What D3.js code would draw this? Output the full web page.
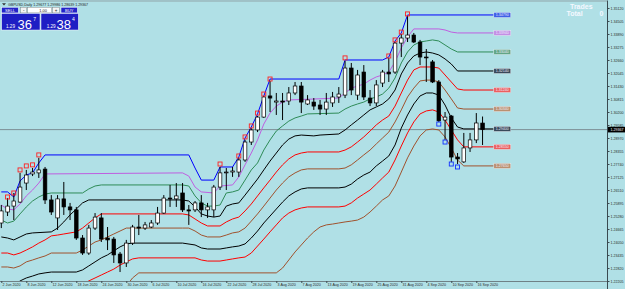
<!DOCTYPE html>
<html>
<head>
<meta charset="utf-8">
<script src="https://cdnjs.cloudflare.com/ajax/libs/d3/7.8.5/d3.min.js"></script>
<style>
body { margin: 0; background: #b0e0e6; }
svg { display: block; font-family: "Liberation Sans", Arial, sans-serif; }
</style>
</head>
<body>
<div id="my_dataviz"></div>
<script>
// chart size
var width = 625, height = 289;
var plotRight = 607, plotBottom = 281;

// daily candles GBPUSD: [open, high, low, close]
var candles = [
  [1.2495, 1.2580, 1.2471, 1.2552], [1.2547, 1.2613, 1.2528, 1.2575], [1.2575, 1.2637, 1.2509, 1.2599],
  [1.2594, 1.2732, 1.2590, 1.2665], [1.2684, 1.2746, 1.2651, 1.2722], [1.2727, 1.2755, 1.2717, 1.2736],
  [1.2732, 1.2803, 1.2708, 1.2746], [1.2750, 1.2760, 1.2585, 1.2604], [1.2604, 1.2627, 1.2533, 1.2547],
  [1.2519, 1.2627, 1.2462, 1.2609], [1.2609, 1.2689, 1.2533, 1.2571], [1.2571, 1.2590, 1.2509, 1.2557],
  [1.2557, 1.2571, 1.2415, 1.2424], [1.2424, 1.2438, 1.2344, 1.2353], [1.2353, 1.2486, 1.2344, 1.2471],
  [1.2471, 1.2542, 1.2462, 1.2523], [1.2519, 1.2542, 1.2405, 1.2419], [1.2424, 1.2476, 1.2367, 1.2415],
  [1.2419, 1.2429, 1.2306, 1.2344], [1.2348, 1.2358, 1.2263, 1.2306], [1.2306, 1.2415, 1.2287, 1.2400],
  [1.2400, 1.2486, 1.2391, 1.2476], [1.2476, 1.2533, 1.2438, 1.2471], [1.2471, 1.2500, 1.2462, 1.2486],
  [1.2476, 1.2509, 1.2471, 1.2495], [1.2495, 1.2571, 1.2486, 1.2542], [1.2542, 1.2627, 1.2538, 1.2613],
  [1.2613, 1.2675, 1.2571, 1.2609], [1.2609, 1.2684, 1.2571, 1.2623], [1.2637, 1.2684, 1.2547, 1.2557],
  [1.2557, 1.2580, 1.2486, 1.2552], [1.2557, 1.2599, 1.2547, 1.2590], [1.2590, 1.2627, 1.2523, 1.2557],
  [1.2557, 1.2590, 1.2519, 1.2571], [1.2557, 1.2675, 1.2523, 1.2665], [1.2665, 1.2760, 1.2651, 1.2732],
  [1.2732, 1.2755, 1.2651, 1.2736], [1.2736, 1.2760, 1.2713, 1.2741], [1.2736, 1.2803, 1.2713, 1.2793],
  [1.2793, 1.2888, 1.2784, 1.2878], [1.2878, 1.2944, 1.2864, 1.2935], [1.2935, 1.3001, 1.2925, 1.2996],
  [1.2996, 1.3096, 1.2992, 1.3091], [1.3096, 1.3167, 1.3020, 1.3086], [1.3067, 1.3110, 1.3006, 1.3072],
  [1.3072, 1.3110, 1.2982, 1.3067], [1.3072, 1.3138, 1.3053, 1.3110], [1.3110, 1.3162, 1.3100, 1.3143],
  [1.3143, 1.3162, 1.3015, 1.3067], [1.3058, 1.3100, 1.3053, 1.3077], [1.3067, 1.3086, 1.3030, 1.3048],
  [1.3053, 1.3077, 1.3006, 1.3034], [1.3034, 1.3110, 1.3006, 1.3067], [1.3063, 1.3115, 1.3044, 1.3091],
  [1.3091, 1.3138, 1.3063, 1.3105], [1.3100, 1.3261, 1.3086, 1.3228], [1.3228, 1.3252, 1.3100, 1.3124],
  [1.3100, 1.3219, 1.3077, 1.3195], [1.3209, 1.3242, 1.3077, 1.3091], [1.3086, 1.3124, 1.3048, 1.3063],
  [1.3063, 1.3171, 1.3048, 1.3148], [1.3157, 1.3219, 1.3138, 1.3209], [1.3209, 1.3276, 1.3162, 1.3200],
  [1.3209, 1.3351, 1.3200, 1.3346], [1.3346, 1.3389, 1.3280, 1.3370], [1.3370, 1.3474, 1.3351, 1.3384],
  [1.3384, 1.3394, 1.3346, 1.3351], [1.3351, 1.3361, 1.3242, 1.3280], [1.3280, 1.3318, 1.3162, 1.3276],
  [1.3257, 1.3266, 1.3157, 1.3162], [1.3162, 1.3171, 1.2973, 1.2978], [1.2982, 1.3020, 1.2888, 1.2996],
  [1.3001, 1.3006, 1.2784, 1.2807], [1.2807, 1.2826, 1.2774, 1.2798], [1.2784, 1.2921, 1.2779, 1.2850],
  [1.2850, 1.2921, 1.2831, 1.2888], [1.2888, 1.3015, 1.2873, 1.2968], [1.29677, 1.29986, 1.28639, 1.29367]
];
var lastPrice = 1.29367;

// new high / new low markers: [bar, price]
var upMarks = [[1,1.2618],[2,1.2637],[3,1.2746],[4,1.2765],[5,1.2770],[6,1.2817],[35,1.2774],[38,1.2812],
  [39,1.2902],[40,1.2954],[41,1.3015],[42,1.3105],[43,1.3176],[55,1.3276],[62,1.3285],[63,1.3361],[64,1.3398],[65,1.3484]];
var downMarks = [[70,1.2963],[71,1.2878],[72,1.2774],[73,1.2760]];

// channel lines: [bar, price]
var blueLine = [[0,1.2642],[1,1.2642],[2,1.2618],[3,1.2694],[4,1.2722],[5,1.2732],[6,1.2779],[7,1.2817],[30,1.2817],
  [31,1.2755],[32,1.2698],[34,1.2698],[35,1.2760],[37,1.2760],[38,1.2807],[39,1.2897],[40,1.2949],[41,1.3011],
  [42,1.3096],[43,1.3176],[54,1.3176],[55,1.3266],[61,1.3266],[62,1.3280],[63,1.3356],[64,1.3394],[65,1.3479],[78.8,1.3479]];
var violetLine = [[0,1.2580],[1,1.2561],[2,1.2557],[3,1.2585],[4,1.2623],[5,1.2651],[6,1.2684],[7,1.2727],[29,1.2732],
  [30,1.2717],[31,1.2665],[32,1.2642],[34,1.2637],[35,1.2670],[37,1.2675],[38,1.2713],[39,1.2770],[40,1.2826],
  [41,1.2888],[42,1.2963],[43,1.3015],[44,1.3048],[45,1.3067],[46,1.3077],[54,1.3086],[55,1.3110],[56,1.3133],
  [57,1.3143],[58,1.3152],[59,1.3171],[60,1.3186],[61,1.3195],[62,1.3209],[63,1.3257],[64,1.3323],[65,1.3375],
  [66,1.3413],[70,1.3413],[71,1.3408],[72,1.3398],[73,1.3394],[78.8,1.3394]];
var greenLine = [[0,1.2509],[1,1.2495],[2,1.2504],[3,1.2538],[4,1.2571],[5,1.2599],[6,1.2618],[7,1.2632],[8,1.2637],
  [13,1.2637],[14,1.2656],[15,1.2670],[16,1.2675],[29,1.2675],[30,1.2670],[31,1.2623],[32,1.2590],[33,1.2575],
  [34,1.2575],[35,1.2580],[36,1.2637],[37,1.2642],[38,1.2651],[39,1.2698],[40,1.2746],[41,1.2779],[42,1.2840],
  [43,1.2888],[44,1.2930],[45,1.2954],[46,1.2977],[47,1.2992],[48,1.3001],[49,1.3011],[54,1.3015],[55,1.3034],
  [56,1.3048],[57,1.3058],[58,1.3067],[59,1.3082],[60,1.3091],[61,1.3105],[62,1.3133],[63,1.3181],[64,1.3252],
  [65,1.3304],[66,1.3337],[67,1.3351],[68,1.3356],[69,1.3361],[70,1.3356],[71,1.3337],[72,1.3318],[73,1.3304],[78.8,1.3304]];
var blackLine1 = [[0,1.2429],[1,1.2424],[2,1.2415],[3,1.2429],[4,1.2443],[5,1.2448],[8,1.2453],[9,1.2471],[10,1.2500],
  [11,1.2533],[12,1.2561],[13,1.2590],[14,1.2604],[29,1.2604],[30,1.2599],[31,1.2571],[32,1.2538],[33,1.2528],
  [34,1.2523],[35,1.2528],[36,1.2575],[37,1.2585],[38,1.2590],[39,1.2627],[40,1.2665],[41,1.2703],[42,1.2746],
  [43,1.2788],[44,1.2826],[45,1.2864],[46,1.2892],[47,1.2907],[48,1.2911],[50,1.2907],[51,1.2911],[54,1.2916],
  [55,1.2935],[56,1.2959],[57,1.2982],[58,1.3006],[59,1.3030],[60,1.3044],[61,1.3058],[62,1.3082],[63,1.3124],
  [64,1.3200],[65,1.3252],[66,1.3285],[67,1.3299],[68,1.3304],[69,1.3299],[70,1.3290],[71,1.3271],[72,1.3247],
  [73,1.3214],[78.8,1.3214]];
var redLine1 = [[0,1.2353],[1,1.2353],[2,1.2344],[3,1.2353],[4,1.2367],[5,1.2382],[6,1.2400],[7,1.2415],[8,1.2434],
  [9,1.2438],[10,1.2443],[11,1.2448],[12,1.2453],[13,1.2471],[14,1.2495],[15,1.2519],[16,1.2538],[29,1.2538],
  [30,1.2533],[31,1.2514],[32,1.2495],[33,1.2481],[35,1.2481],[36,1.2500],[37,1.2514],[38,1.2523],[39,1.2552],
  [40,1.2585],[41,1.2623],[42,1.2661],[43,1.2698],[44,1.2736],[45,1.2770],[46,1.2798],[47,1.2817],[48,1.2826],
  [49,1.2831],[54,1.2831],[55,1.2840],[56,1.2855],[57,1.2878],[58,1.2902],[59,1.2930],[60,1.2959],[61,1.2982],
  [62,1.3001],[63,1.3048],[64,1.3110],[65,1.3171],[66,1.3219],[67,1.3233],[69,1.3233],[70,1.3228],[71,1.3195],
  [72,1.3162],[73,1.3129],[74,1.3124],[78.8,1.3124]];
var brownLine1 = [[0,1.2287],[1,1.2287],[2,1.2282],[3,1.2292],[4,1.2311],[5,1.2320],[6,1.2330],[7,1.2339],[8,1.2353],
  [12,1.2353],[13,1.2367],[14,1.2386],[15,1.2405],[16,1.2415],[17,1.2429],[18,1.2443],[19,1.2457],[20,1.2471],
  [29,1.2471],[30,1.2471],[31,1.2457],[32,1.2438],[33,1.2429],[35,1.2429],[36,1.2438],[37,1.2448],[38,1.2453],
  [39,1.2471],[40,1.2504],[41,1.2538],[42,1.2575],[43,1.2613],[44,1.2651],[45,1.2684],[46,1.2713],[47,1.2732],
  [48,1.2746],[49,1.2751],[54,1.2751],[55,1.2755],[56,1.2770],[57,1.2793],[58,1.2817],[59,1.2840],[60,1.2869],
  [61,1.2897],[62,1.2925],[63,1.2973],[64,1.3030],[65,1.3091],[66,1.3133],[67,1.3167],[68,1.3171],[69,1.3171],
  [70,1.3162],[71,1.3124],[72,1.3082],[73,1.3039],[74,1.3034],[78.8,1.3034]];
var blackLine2 = [[0,1.2173],[1,1.2178],[2,1.2197],[3,1.2221],[4,1.2235],[5,1.2244],[6,1.2254],[7,1.2259],[8,1.2263],
  [12,1.2263],[13,1.2273],[14,1.2292],[15,1.2311],[16,1.2330],[17,1.2344],[18,1.2363],[19,1.2382],[20,1.2396],
  [21,1.2400],[29,1.2400],[31,1.2391],[32,1.2377],[33,1.2372],[35,1.2372],[36,1.2377],[37,1.2382],[38,1.2386],
  [39,1.2396],[40,1.2424],[41,1.2457],[42,1.2495],[43,1.2528],[44,1.2561],[45,1.2594],[46,1.2623],[47,1.2642],
  [48,1.2656],[49,1.2661],[54,1.2661],[55,1.2665],[56,1.2679],[57,1.2703],[58,1.2722],[59,1.2736],[60,1.2765],
  [61,1.2788],[62,1.2812],[63,1.2864],[64,1.2944],[65,1.3006],[66,1.3058],[67,1.3096],[68,1.3110],[69,1.3110],
  [70,1.3100],[71,1.3053],[72,1.2992],[73,1.2949],[74,1.2940],[78.8,1.2940]];
var redLine2 = [[12,1.2169],[13,1.2207],[14,1.2221],[15,1.2235],[16,1.2249],[17,1.2263],[18,1.2277],[19,1.2296],
  [20,1.2311],[21,1.2325],[22,1.2330],[31,1.2330],[32,1.2320],[33,1.2315],[35,1.2315],[36,1.2320],[37,1.2325],
  [38,1.2330],[39,1.2334],[40,1.2353],[41,1.2386],[42,1.2419],[43,1.2453],[44,1.2486],[45,1.2519],[46,1.2542],
  [47,1.2557],[48,1.2566],[49,1.2571],[54,1.2571],[55,1.2575],[56,1.2590],[57,1.2613],[58,1.2632],[59,1.2651],
  [60,1.2679],[61,1.2708],[62,1.2736],[63,1.2793],[64,1.2859],[65,1.2921],[66,1.2973],[67,1.3011],[68,1.3025],
  [69,1.3030],[70,1.3020],[71,1.2982],[72,1.2935],[73,1.2888],[74,1.2855],[78.8,1.2855]];
var brownLine2 = [[19,1.2155],[20,1.2197],[21,1.2235],[22,1.2259],[44,1.2259],[45,1.2282],[46,1.2320],[47,1.2358],
  [48,1.2391],[49,1.2424],[50,1.2453],[51,1.2476],[52,1.2486],[53,1.2490],[54,1.2495],[55,1.2500],[56,1.2504],
  [57,1.2509],[58,1.2523],[59,1.2547],[60,1.2575],[61,1.2604],[62,1.2623],[63,1.2670],[64,1.2736],[65,1.2803],
  [66,1.2859],[67,1.2907],[68,1.2935],[69,1.2940],[70,1.2935],[71,1.2902],[72,1.2850],[73,1.2793],[74,1.2765],[78.8,1.2765]];

// axes
var priceTicks = [1.35120, 1.34505, 1.33890, 1.33275, 1.32660, 1.32045, 1.31430, 1.30815, 1.30200, 1.29585, 1.28970,
  1.28355, 1.27740, 1.27125, 1.26510, 1.25895, 1.25280, 1.24665, 1.24050, 1.23435, 1.22820, 1.22205];
var dateTicks = [0, 4, 8, 12, 16, 20, 24, 28, 32, 36, 40, 44, 48, 52, 56, 60, 64, 68, 72, 76];
var dateLabels = ["2 Jun 2020", "8 Jun 2020", "12 Jun 2020", "18 Jun 2020", "24 Jun 2020", "30 Jun 2020",
  "6 Jul 2020", "10 Jul 2020", "16 Jul 2020", "22 Jul 2020", "28 Jul 2020", "3 Aug 2020", "7 Aug 2020",
  "13 Aug 2020", "19 Aug 2020", "25 Aug 2020", "31 Aug 2020", "4 Sep 2020", "10 Sep 2020", "16 Sep 2020"];

function init(){
    createChart();
}

function createChart(){
    var svg = d3.select("#my_dataviz")
      .append("svg")
      .attr("width", width)
      .attr("height", height);

    svg.append("rect").attr("width", width).attr("height", height).attr("fill", "#b0e0e6");

    var x = d3.scaleLinear().domain([0, 77]).range([1.3, 482.55]);
    var y = d3.scaleLinear().domain([1.35498, 1.21828]).range([0, 289]);
    var fmt = d3.format(".5f");

    svg.append("clipPath").attr("id", "plot")
      .append("rect").attr("x", 0).attr("y", 1).attr("width", plotRight).attr("height", plotBottom - 1);

    var plot = svg.append("g").attr("clip-path", "url(#plot)");

    // last price line
    plot.append("line")
      .attr("x1", 0).attr("x2", plotRight)
      .attr("y1", y(lastPrice)).attr("y2", y(lastPrice))
      .attr("stroke", "#7d8e95").attr("stroke-width", 1);

    // channel lines
    var series = [
      {d: blueLine,   c: "#0000ff", box: "#3f5fe6"},
      {d: violetLine, c: "#bf5fe0", box: "#c48ee4"},
      {d: greenLine,  c: "#2e8b57", box: "#62a585"},
      {d: blackLine1, c: "#000000", box: "#39495a"},
      {d: redLine1,   c: "#ff0000", box: "#ec5f5f"},
      {d: brownLine1, c: "#a0522d", box: "#bb9070"},
      {d: blackLine2, c: "#000000", box: "#39495a"},
      {d: redLine2,   c: "#ff0000", box: "#ec5f5f"},
      {d: brownLine2, c: "#a0522d", box: "#bb9070"}
    ];
    var line = d3.line().x(d => x(d[0])).y(d => y(d[1]));

    series.forEach(function(s){
        plot.append("path")
          .attr("d", line(s.d))
          .attr("fill", "none")
          .attr("stroke", s.c)
          .attr("stroke-width", 1);
    });

    // right end price tags of the lines
    series.forEach(function(s){
        var last = s.d[s.d.length - 1];
        var g = plot.append("g").attr("transform", "translate(" + x(last[0]) + "," + y(last[1]) + ")");
        g.append("rect")
          .attr("x", 0).attr("y", -2.6).attr("width", 17).attr("height", 5.2)
          .attr("fill", s.box).attr("stroke", "#e6f0f4").attr("stroke-width", 0.5);
        g.append("text")
          .attr("x", 8.5).attr("y", 1.4)
          .attr("text-anchor", "middle")
          .style("font-size", "3.6px")
          .attr("fill", "#eef2ff")
          .text(fmt(last[1]));
    });

    // candles
    var bw = 3.6;
    var cg = plot.append("g");
    cg.selectAll(".wick")
      .data(candles)
      .enter()
      .append("line")
        .attr("x1", (d, i) => x(i)).attr("x2", (d, i) => x(i))
        .attr("y1", d => y(d[1])).attr("y2", d => y(d[2]))
        .attr("stroke", "#000").attr("stroke-width", 1);

    cg.selectAll(".body")
      .data(candles)
      .enter()
      .append("rect")
        .attr("x", (d, i) => x(i) - bw / 2)
        .attr("width", bw)
        .attr("y", d => y(Math.max(d[0], d[3])))
        .attr("height", d => Math.max(0.8, Math.abs(y(d[0]) - y(d[3]))))
        .attr("fill", d => d[3] >= d[0] ? "#ffffff" : "#000000")
        .attr("stroke", "#000")
        .attr("stroke-width", 0.7);

    // markers
    plot.selectAll(".up")
      .data(upMarks)
      .enter()
      .append("rect")
        .attr("x", d => x(d[0]) - 2).attr("y", d => y(d[1]) - 2)
        .attr("width", 4).attr("height", 4)
        .attr("fill", "none").attr("stroke", "#ff2020").attr("stroke-width", 0.9);
    plot.selectAll(".down")
      .data(downMarks)
      .enter()
      .append("rect")
        .attr("x", d => x(d[0]) - 2).attr("y", d => y(d[1]) - 2)
        .attr("width", 4).attr("height", 4)
        .attr("fill", "none").attr("stroke", "#1030ff").attr("stroke-width", 0.9);

    // frame
    svg.append("line").attr("x1", 0).attr("x2", plotRight).attr("y1", 1).attr("y2", 1)
      .attr("stroke", "#8fa3a8").attr("stroke-width", 1);
    svg.append("line").attr("x1", 0).attr("x2", plotRight).attr("y1", plotBottom + 0.5).attr("y2", plotBottom + 0.5)
      .attr("stroke", "#6f8186").attr("stroke-width", 1.2);

    // price axis
    var yAxis = d3.axisRight(y).tickValues(priceTicks).tickSize(2.5).tickSizeOuter(0).tickFormat(fmt);
    var ya = svg.append("g").attr("transform", "translate(" + plotRight + ",0)").call(yAxis);
    ya.select(".domain").attr("stroke", "#3a4a50");
    ya.selectAll(".tick line").attr("stroke", "#3a4a50");
    ya.selectAll(".tick text")
      .attr("x", 3.5)
      .style("font-size", "3.6px")
      .style("font-family", "Liberation Sans, Arial, sans-serif")
      .attr("fill", "#2a2a2a");

    // last price tag
    var tag = svg.append("g").attr("transform", "translate(" + (plotRight + 1) + "," + y(lastPrice) + ")");
    tag.append("rect").attr("x", 0).attr("y", -2.8).attr("width", 17).attr("height", 5.6).attr("fill", "#000");
    tag.append("text").attr("x", 2.5).attr("y", 1.3)
      .style("font-size", "3.6px").attr("fill", "#fff").text(fmt(lastPrice));

    // time axis
    var xAxis = d3.axisBottom(x).tickValues(dateTicks).tickSize(2).tickSizeOuter(0)
      .tickFormat((d, i) => dateLabels[i]);
    var xa = svg.append("g").attr("transform", "translate(0," + plotBottom + ")").call(xAxis);
    xa.select(".domain").remove();
    xa.selectAll(".tick line").attr("stroke", "#3a4a50");
    xa.selectAll(".tick text")
      .attr("text-anchor", "start")
      .attr("x", 0.8).attr("y", 2.2).attr("dy", "0.71em")
      .style("font-size", "3.6px")
      .style("font-family", "Liberation Sans, Arial, sans-serif")
      .attr("fill", "#2a2a2a");

    // title
    svg.append("path").attr("d", "M2,3.2 L6,3.2 L4,5.6 Z").attr("fill", "#333");
    svg.append("text").attr("x", 8).attr("y", 5.6)
      .style("font-size", "3.6px").attr("fill", "#222")
      .text("GBPUSD,Daily  1.29677 1.29986 1.28639 1.29367");

    // one click trading panel
    var p = svg.append("g");
    var blue = "#2424c8";
    p.append("rect").attr("x", 1.7).attr("y", 7.3).attr("width", 16.6).attr("height", 5.6)
      .attr("fill", blue).attr("stroke", "#f4f4ff").attr("stroke-width", 0.5);
    p.append("text").attr("x", 10).attr("y", 11.6).attr("text-anchor", "middle")
      .style("font-size", "4px").attr("fill", "#fff").text("SELL");
    p.append("rect").attr("x", 20.7).attr("y", 7.3).attr("width", 6).attr("height", 5.6)
      .attr("fill", "#f4f4f4").attr("stroke", "#777").attr("stroke-width", 0.4);
    p.append("text").attr("x", 23.7).attr("y", 11.6).attr("text-anchor", "middle")
      .style("font-size", "4.5px").attr("fill", "#222").text("-");
    p.append("rect").attr("x", 27.7).attr("y", 7.3).attr("width", 24).attr("height", 5.6)
      .attr("fill", "#ffffff").attr("stroke", "#777").attr("stroke-width", 0.4);
    p.append("text").attr("x", 47).attr("y", 11.6).attr("text-anchor", "end")
      .style("font-size", "4px").attr("fill", "#222").text("1.00");
    p.append("rect").attr("x", 52.7).attr("y", 7.3).attr("width", 6.6).attr("height", 5.6)
      .attr("fill", "#f4f4f4").attr("stroke", "#777").attr("stroke-width", 0.4);
    p.append("text").attr("x", 56).attr("y", 11.6).attr("text-anchor", "middle")
      .style("font-size", "4.5px").attr("fill", "#222").text("+");
    p.append("rect").attr("x", 61).attr("y", 7.3).attr("width", 16.3).attr("height", 5.6)
      .attr("fill", blue).attr("stroke", "#f4f4ff").attr("stroke-width", 0.5);
    p.append("text").attr("x", 69.2).attr("y", 11.6).attr("text-anchor", "middle")
      .style("font-size", "4px").attr("fill", "#fff").text("BUY");

    p.append("rect").attr("x", 1.7).attr("y", 13.5).attr("width", 38.3).attr("height", 16.5)
      .attr("fill", "#1e1ec4").attr("stroke", "#f4f4ff").attr("stroke-width", 0.5);
    p.append("rect").attr("x", 41).attr("y", 13.5).attr("width", 37.3).attr("height", 16.5)
      .attr("fill", "#1e1ec4").attr("stroke", "#f4f4ff").attr("stroke-width", 0.5);
    p.append("text").attr("x", 6).attr("y", 27.6).style("font-size", "4.6px").attr("fill", "#fff").text("1.29");
    p.append("text").attr("x", 17.5).attr("y", 29).style("font-size", "13px").attr("fill", "#fff").text("36");
    p.append("text").attr("x", 33.2).attr("y", 20.5).style("font-size", "5px").attr("fill", "#fff").text("7");
    p.append("text").attr("x", 46.7).attr("y", 27.6).style("font-size", "4.6px").attr("fill", "#fff").text("1.29");
    p.append("text").attr("x", 56.5).attr("y", 29).style("font-size", "13px").attr("fill", "#fff").text("38");
    p.append("text").attr("x", 72).attr("y", 20.5).style("font-size", "5px").attr("fill", "#fff").text("4");

    // trades counter
    svg.append("text").attr("x", 570).attr("y", 9.3)
      .style("font-size", "7px").style("font-weight", "bold").attr("fill", "#f4f8ff").text("Trades");
    svg.append("text").attr("x", 566.5).attr("y", 16.3)
      .style("font-size", "7px").style("font-weight", "bold").attr("fill", "#f4f8ff").text("Total");
    svg.append("text").attr("x", 599.5).attr("y", 16.3)
      .style("font-size", "7px").style("font-weight", "bold").attr("fill", "#f4f8ff").text("0");
}

init();
</script>
</body>
</html>
